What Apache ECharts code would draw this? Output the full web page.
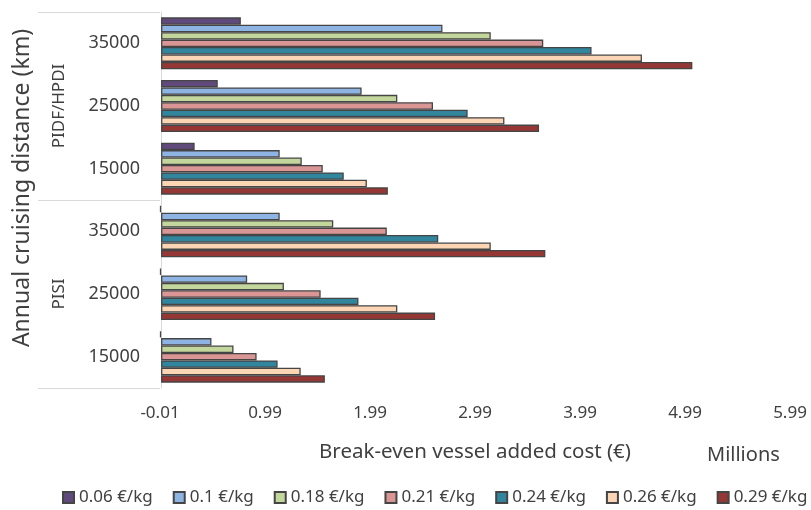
<!DOCTYPE html>
<html>
<head>
<meta charset="utf-8">
<script src="https://cdn.jsdelivr.net/npm/echarts@6/dist/echarts.min.js"></script>
<style>
  html, body { margin: 0; padding: 0; background: #fff; }
  #chart { width: 811px; height: 510px; }
</style>
</head>
<body>
<div id="chart"></div>
<script>
// categories, top to bottom (group|distance)
var categories = ['PIDF/HPDI|35000', 'PIDF/HPDI|25000', 'PIDF/HPDI|15000', 'PISI|35000', 'PISI|25000', 'PISI|15000'];
var groups = ['PIDF/HPDI', 'PISI'];
var seriesNames = ['0.06 €/kg', '0.1 €/kg', '0.18 €/kg', '0.21 €/kg', '0.24 €/kg', '0.26 €/kg', '0.29 €/kg'];
var colors = ['#604a7b', '#8eb4e3', '#c3d69b', '#d99694', '#31859c', '#fcd5b5', '#953735'];

// break-even added cost, millions €
var p006 = [0.76, 0.54, 0.32, -0.01, -0.01, -0.01];
var p010 = [2.68, 1.91, 1.13, 1.13, 0.82, 0.48];
var p018 = [3.14, 2.25, 1.34, 1.64, 1.17, 0.69];
var p021 = [3.64, 2.59, 1.54, 2.15, 1.52, 0.91];
var p024 = [4.10, 2.92, 1.74, 2.64, 1.88, 1.11];
var p026 = [4.58, 3.27, 1.96, 3.14, 2.25, 1.33];
var p029 = [5.06, 3.60, 2.16, 3.66, 2.61, 1.56];
var values = [p006, p010, p018, p021, p024, p026, p029];

var textColor = '#404040';
var font = 'Noto Sans';

var series = seriesNames.map(function (name, i) {
  return {
    name: name,
    type: 'bar',
    yAxisIndex: 0,
    barGap: '0%',
    barCategoryGap: '17%',
    itemStyle: { color: colors[i], borderColor: '#454545', borderWidth: 1.3 },
    data: values[i]
  };
});

var option = {
  animation: false,
  textStyle: { fontFamily: font, color: textColor },
  title: {
    text: 'Millions',
    left: 702,
    top: 440,
    textStyle: { fontFamily: font, fontSize: 20, fontWeight: 'normal', color: textColor }
  },
  legend: {
    bottom: -1,
    left: 57,
    width: 760,
    itemWidth: 11,
    itemHeight: 11,
    itemGap: 20,
    icon: 'rect',
    textStyle: { fontFamily: font, fontSize: 17, color: textColor },
    data: seriesNames
  },
  grid: { left: 160, right: 21, top: 12, bottom: 122 },
  xAxis: {
    type: 'value',
    min: -0.01,
    max: 5.99,
    interval: 1,
    splitLine: { show: false },
    axisLine: { show: false },
    axisTick: { show: false },
    axisLabel: {
      margin: 17,
      fontSize: 17,
      color: textColor,
      formatter: function (v) { return v.toFixed(2); }
    },
    name: 'Break-even vessel added cost (€)',
    nameLocation: 'middle',
    nameGap: 54,
    nameTextStyle: { fontSize: 20.5, color: textColor }
  },
  yAxis: [
    {
      type: 'category',
      inverse: true,
      data: categories,
      axisLine: { show: true, lineStyle: { color: '#d9d9d9' } },
      axisTick: { show: false },
      axisLabel: {
        margin: 20,
        fontSize: 18,
        color: textColor,
        formatter: function (v) { return v.split('|')[1]; }
      }
    },
    {
      type: 'category',
      position: 'left',
      inverse: true,
      data: groups,
      axisLine: { show: false },
      axisTick: { show: true, length: 122, interval: 0, lineStyle: { color: '#d9d9d9' } },
      axisLabel: { rotate: 90, margin: 92, fontSize: 17, color: textColor },
      name: 'Annual cruising distance (km)',
      nameLocation: 'middle',
      nameGap: 126,
      nameRotate: 90,
      nameTextStyle: { fontSize: 23, color: textColor, padding: [0, 0, 0, 24] }
    }
  ],
  series: series
};

var chart = echarts.init(document.getElementById('chart'));
chart.setOption(option);
</script>
</body>
</html>
